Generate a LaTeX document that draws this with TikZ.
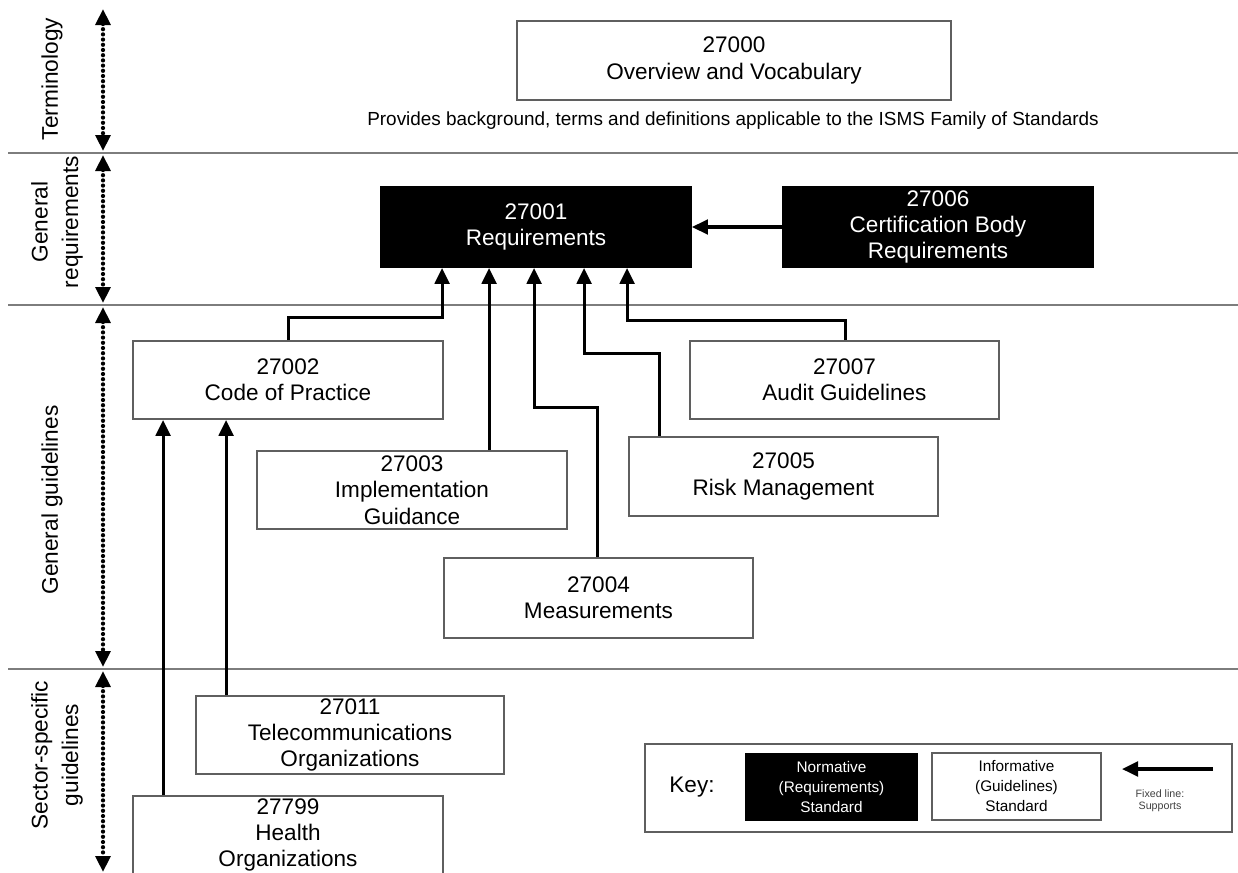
\documentclass[tikz,border=0pt]{standalone}
\usepackage{fontspec}
\setmainfont{Liberation Sans}
\usetikzlibrary{arrows.meta,calc}
\definecolor{boxgray}{RGB}{95,95,95}
\definecolor{sepgray}{RGB}{125,125,125}
\begin{document}
\begin{tikzpicture}[x=0.75pt,y=-0.75pt,
  sz/.style n args={2}{minimum width=#1*0.75pt, minimum height=#2*0.75pt},
  box/.style={draw=boxgray, line width=1.4pt, fill=white, align=center, inner sep=0pt,
    font=\fontsize{16.9}{19.8}\selectfont},
  nbox/.style={box, fill=black, draw=black, text=white},
  conn/.style={line width=2.3pt, draw=black, -{Triangle[length=12pt,width=11pt]}},
  sepline/.style={draw=sepgray, line width=1.6pt},
  dotarrow/.style={line width=3.2pt, line cap=round, dash pattern=on 0pt off 3.9pt,
    {Triangle[length=12pt,width=11pt]}-{Triangle[length=12pt,width=11pt]}},
  sidelabel/.style={rotate=90, align=center, font=\fontsize{17}{23}\selectfont},
]
\useasboundingbox (0,0) rectangle (1238,872);
\clip (0,0) rectangle (1238,872);
\fill[white] (0,0) rectangle (1238,872);

% separators
\draw[sepline] (8,153) -- (1238,153);
\draw[sepline] (8,305) -- (1238,305);
\draw[sepline] (8,669) -- (1238,669);

% side dotted arrows
\draw[dotarrow] (103,9) -- (103,151);
\draw[dotarrow] (103,155) -- (103,303);
\draw[dotarrow] (103,307) -- (103,667);
\draw[dotarrow] (103,671) -- (103,872);

% side labels
\node[sidelabel] (lterm) at (52,79) {Terminology};
\node[sidelabel] (lreq) at (57,222) {General\\requirements};
\node[sidelabel] (lgui) at (52,500) {General guidelines};
\node[sidelabel] (lsec) at (57,755) {Sector-specific\\guidelines};

% boxes
\node[box, sz={434}{79}] (t0) at (734,60.5) {27000\\Overview and Vocabulary};
\node[font=\fontsize{14.2}{16}\selectfont] (prov) at (733,121)
  {Provides background, terms and definitions applicable to the ISMS Family of Standards};

\node[nbox, sz={310}{80}] (r1) at (536,227) {27001\\Requirements};
\node[nbox, sz={310}{80}] (r6) at (938,227) {27006\\Certification Body\\Requirements};

\node[box, sz={310}{78}] (g2) at (288,380) {27002\\Code of Practice};
\node[box, sz={309}{78}] (g7) at (844.5,380) {27007\\Audit Guidelines};
\node[box, sz={310}{78}] (g3) at (412,490) {27003\\Implementation\\Guidance};
\node[box, sz={309}{79}] (g5) at (783.5,476.5) {27005\\Risk Management};
\node[box, sz={309}{80}] (g4) at (598.5,598) {27004\\Measurements};

\node[box, sz={308}{78}] (s11) at (350,735) {27011\\Telecommunications\\Organizations};
\node[box, sz={310}{78}] (s799) at (288,835) {27799\\Health\\Organizations};

% connectors into 27001
\draw[conn] (r6.west) -- (r1.east);
\draw[conn] ($(g2.north west)+(156,0)$) |- ($(r1.south west)+(62,50)$) -- ($(r1.south west)+(62,0)$);
\draw[conn] ($(g3.north west)+(233,0)$) -- ($(r1.south west)+(109,0)$);
\draw[conn] ($(g4.north west)+(154,0)$) |- ($(r1.south west)+(154,140)$) -- ($(r1.south west)+(154,0)$);
\draw[conn] ($(g5.north west)+(31,0)$) |- ($(r1.south west)+(204,86)$) -- ($(r1.south west)+(204,0)$);
\draw[conn] ($(g7.north west)+(156,0)$) |- ($(r1.south west)+(247,53)$) -- ($(r1.south west)+(247,0)$);

% connectors into 27002
\draw[conn] ($(s799.north west)+(31,0)$) -- ($(g2.south west)+(31,0)$);
\draw[conn] ($(s11.north west)+(31,0)$) -- ($(g2.south west)+(94,0)$);

% key
\node[draw=boxgray, line width=2pt, sz={587}{88}] (keyf) at (938.5,788) {};
\node[font=\fontsize{16.9}{20}\selectfont] (keyl) at (692,787) {Key:};
\node[nbox, sz={171}{66}, font=\fontsize{11.5}{15}\selectfont] (keyn) at (831.5,787)
  {Normative\\(Requirements)\\Standard};
\node[box, sz={169}{67}, font=\fontsize{11.5}{15}\selectfont] (keyi) at (1016.5,786.5)
  {Informative\\(Guidelines)\\Standard};
\coordinate (ka) at (1213,769);
\coordinate (kb) at (1122,769);
\draw[conn] (ka) -- (kb);
\node[align=center, text=black!75, font=\fontsize{8}{8.8}\selectfont] (keyt) at (1160,801)
  {Fixed line:\\Supports};
\end{tikzpicture}
\end{document}
